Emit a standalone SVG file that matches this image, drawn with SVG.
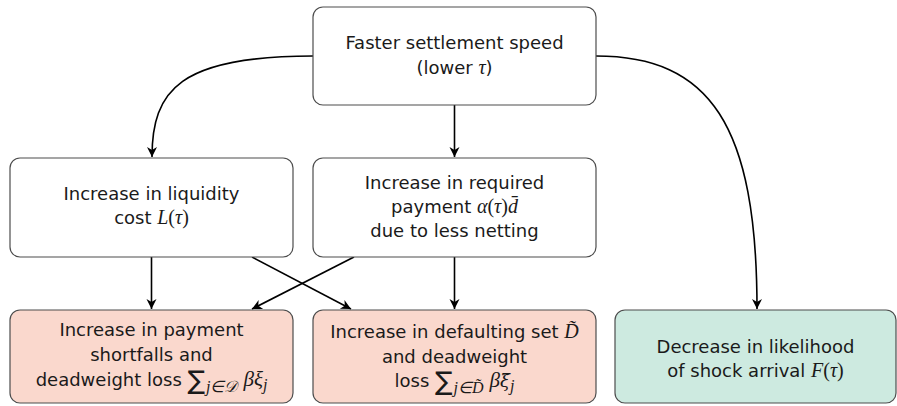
<svg xmlns="http://www.w3.org/2000/svg" width="897" height="406" viewBox="0 0 897 406">
<defs>
<marker id="ah" markerWidth="12" markerHeight="12" viewBox="-11 -6 12 12" refX="0" refY="0" orient="auto" markerUnits="userSpaceOnUse">
<path d="M-10,-5 L0,0 L-10,5 L-7,0 Z" fill="#000"/>
</marker>
<style>
.box{stroke:#4d4d4d;stroke-width:1.2;fill:#fff}
.pink{fill:#fad8cd}
.green{fill:#cdeae0}
.t{font-family:"DejaVu Sans",sans-serif;font-size:18px;fill:#1a1a1a;text-anchor:middle}
.m{font-family:"Liberation Serif",serif;font-style:italic;font-size:20px}
.mb{font-family:"Liberation Serif",serif;font-style:italic;font-size:21px}
.dv{font-family:"DejaVu Serif",serif;font-style:italic;font-size:18px}
.u{font-family:"Liberation Serif",serif;font-style:normal;font-size:20px}
.s{font-family:"Liberation Serif",serif;font-style:italic;font-size:16px}
.su{font-family:"DejaVu Sans",sans-serif;font-size:26px}
.c{stroke:#000;stroke-width:1.6;fill:none;marker-end:url(#ah)}
</style>
</defs>
<rect width="897" height="406" fill="#fff"/>
<g id="connectors">
<path class="c" d="M313,56 C180,56 152,90 152,157"/>
<path class="c" d="M596,56 C710,56 757,125 757,309"/>
<path class="c" d="M454.5,105 L454.5,157"/>
<path class="c" d="M151.5,257 L151.5,309"/>
<path class="c" d="M454.5,257 L454.5,309"/>
<path class="c" d="M252,257 L351,309"/>
<path class="c" d="M354,257 L252,309"/>
</g>
<g id="n-top">
<rect class="box" x="313" y="7" width="283" height="98" rx="10"/>
<text class="t" x="454.5" y="49">Faster settlement speed</text>
<text class="t" x="454.5" y="74">(lower <tspan class="m">τ</tspan>)</text>
</g>
<g id="n-liquidity">
<rect class="box" x="10" y="158" width="283" height="99" rx="10"/>
<text class="t" x="151.5" y="200">Increase in liquidity</text>
<text class="t" x="151.5" y="224">cost <tspan class="m">L</tspan><tspan class="u">(</tspan><tspan class="m">τ</tspan><tspan class="u">)</tspan></text>
</g>
<g id="n-payment">
<rect class="box" x="313" y="158" width="283" height="99" rx="10"/>
<text class="t" x="454.5" y="189">Increase in required</text>
<text class="t" x="454.5" y="213">payment <tspan class="m">α</tspan><tspan class="u">(</tspan><tspan class="m">τ</tspan><tspan class="u">)</tspan><tspan class="m">d̄</tspan></text>
<text class="t" x="454.5" y="237">due to less netting</text>
</g>
<g id="n-shortfalls">
<rect class="box pink" x="10" y="310" width="283" height="93" rx="10"/>
<text class="t" x="151.5" y="336">Increase in payment</text>
<text class="t" x="151.5" y="361">shortfalls and</text>
<text class="t" x="151.5" y="386">deadweight loss <tspan class="su" dy="3">∑</tspan><tspan class="s" dy="3" dx="1">j∈𝒟</tspan><tspan class="mb" dy="-6" dx="6">βξ</tspan><tspan class="s" dy="4">j</tspan></text>
</g>
<g id="n-defaulting">
<rect class="box pink" x="313" y="310" width="283" height="93" rx="10"/>
<text class="t" x="454.5" y="338">Increase in defaulting set <tspan class="m">D̃</tspan></text>
<text class="t" x="454.5" y="363">and deadweight</text>
<text class="t" x="454.5" y="387">loss <tspan class="su" dy="3">∑</tspan><tspan class="s" dy="3" dx="1">j∈D̃</tspan><tspan class="mb" dy="-6" dx="6">β</tspan><tspan class="dv">ξ̃</tspan><tspan class="s" dy="4">j</tspan></text>
</g>
<g id="n-shock">
<rect class="box green" x="615" y="310" width="281" height="93" rx="10"/>
<text class="t" x="755.5" y="353">Decrease in likelihood</text>
<text class="t" x="755.5" y="377">of shock arrival <tspan class="m">F</tspan><tspan class="u">(</tspan><tspan class="m">τ</tspan><tspan class="u">)</tspan></text>
</g>
</svg>
